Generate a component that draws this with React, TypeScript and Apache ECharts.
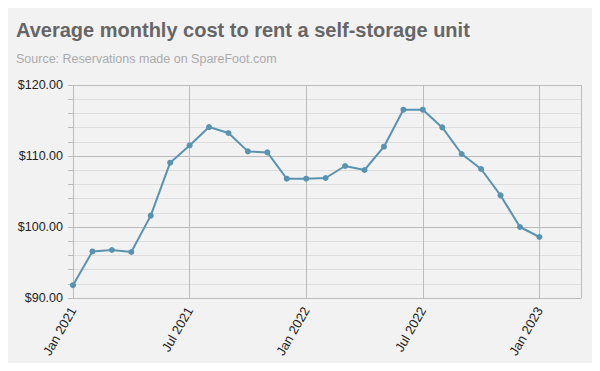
import React, { useEffect, useRef } from "react";
import * as echarts from "echarts";

const months = [
  "2021-01", "2021-02", "2021-03", "2021-04", "2021-05", "2021-06",
  "2021-07", "2021-08", "2021-09", "2021-10", "2021-11", "2021-12",
  "2022-01", "2022-02", "2022-03", "2022-04", "2022-05", "2022-06",
  "2022-07", "2022-08", "2022-09", "2022-10", "2022-11", "2022-12",
  "2023-01",
];
const costs = [
  91.8, 96.56, 96.76, 96.48, 101.6, 109.06,
  111.49, 114.08, 113.24, 110.65, 110.51, 106.8,
  106.8, 106.9, 108.59, 108.03, 111.31, 116.52,
  116.52, 114.03, 110.28, 108.17, 104.45, 100.0,
  98.59,
];
const monthNames = ["Jan", "Feb", "Mar", "Apr", "May", "Jun", "Jul", "Aug", "Sep", "Oct", "Nov", "Dec"];
const startYear = 2021;

function monthIndex(s: string) {
  const [y, m] = s.split("-").map(Number);
  return (y - startYear) * 12 + (m - 1);
}

export default function App() {
  const ref = useRef<HTMLDivElement>(null);
  useEffect(() => {
    if (!ref.current) return;
    const chart = echarts.init(ref.current, null, { renderer: "svg" });
    const data = months.map((m, i) => [monthIndex(m), costs[i]]);
    chart.setOption({
      animation: false,
      backgroundColor: "#f2f2f2",
      textStyle: { fontFamily: "Liberation Sans, Arial, sans-serif" },
      title: {
        text: "Average monthly cost to rent a self-storage unit",
        subtext: "Source: Reservations made on SpareFoot.com",
        left: 11,
        top: 15,
        itemGap: 12,
        textStyle: { fontSize: 20, fontWeight: "bold", color: "#666666", fontFamily: "Liberation Sans, Arial, sans-serif" },
        subtextStyle: { fontSize: 12.5, color: "#aaaaaa", fontFamily: "Liberation Sans, Arial, sans-serif" },
      },
      grid: { left: 73, right: 19, top: 85, bottom: 73 },
      xAxis: {
        type: "value",
        min: 0,
        max: 26.14,
        interval: 6,
        axisLine: { show: true, lineStyle: { color: "#bbbbbb", width: 1 } },
        axisTick: { show: false },
        splitLine: { show: true, lineStyle: { color: "#bbbbbb", width: 1 } },
        axisLabel: {
          rotate: 60,
          margin: 10,
          color: "#222222",
          fontSize: 13,
          showMaxLabel: false,
          formatter: (v: number) => {
            const y = startYear + Math.floor(v / 12);
            return monthNames[Math.round(v) % 12] + " " + y;
          },
        },
      },
      yAxis: {
        type: "value",
        min: 90,
        max: 120,
        interval: 2,
        axisLine: { show: false },
        axisTick: { show: true, length: 5, lineStyle: { color: "#bbbbbb" } },
        splitLine: {
          show: true,
          lineStyle: { color: ["#bbbbbb", "#dddddd", "#dddddd", "#dddddd", "#dddddd"], width: 1 },
        },
        axisLabel: {
          color: "#222222",
          fontSize: 12.5,
          margin: 10,
          formatter: (v: number) => (v % 10 === 0 ? "$" + v.toFixed(2) : ""),
        },
      },
      series: [
        {
          type: "line",
          data,
          symbol: "circle",
          symbolSize: 6,
          lineStyle: { color: "#5a93b0", width: 2 },
          itemStyle: { color: "#5a93b0" },
        },
      ],
    });
    return () => chart.dispose();
  }, []);
  return <div ref={ref} style={{ width: 600, height: 371, margin: -8 }} />;
}
